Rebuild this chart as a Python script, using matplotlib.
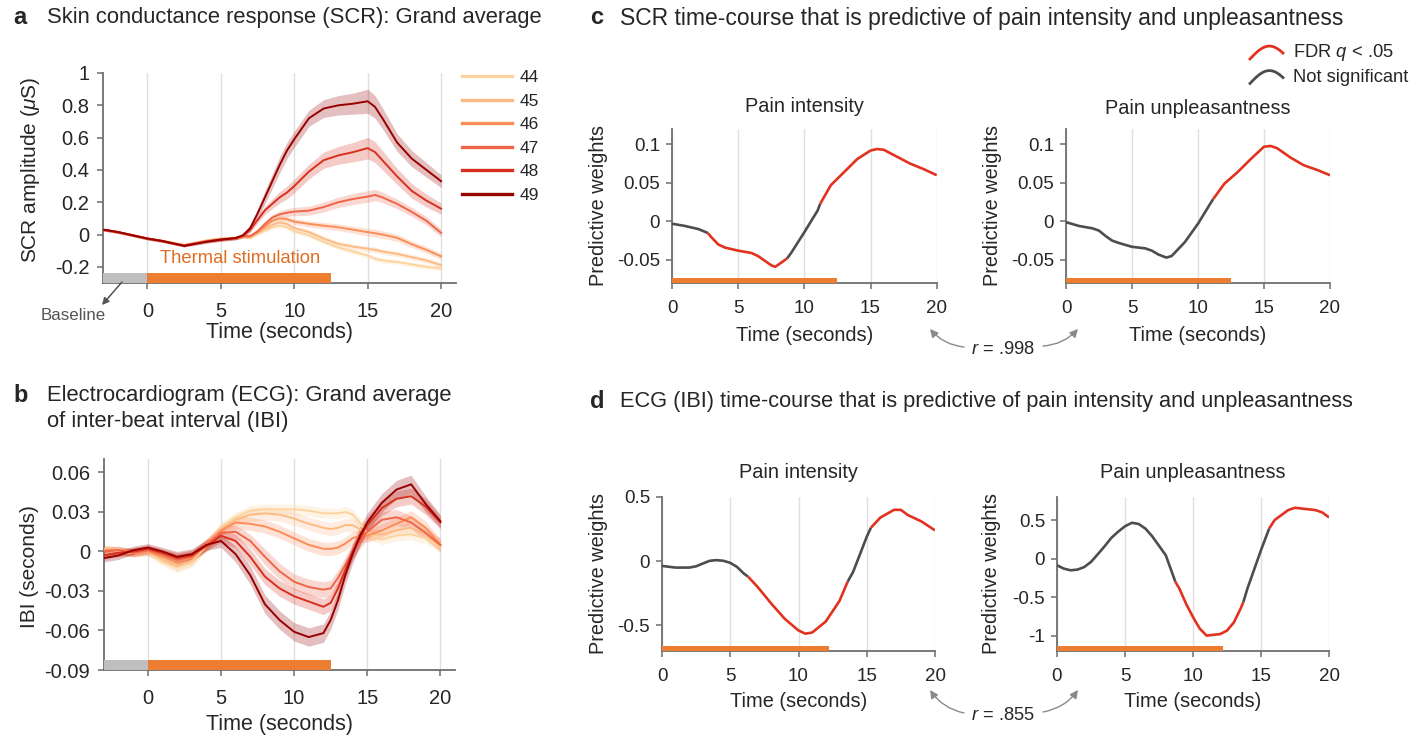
import numpy as np
import matplotlib
matplotlib.use('Agg')
import matplotlib.pyplot as plt
from matplotlib.lines import Line2D
from matplotlib.legend_handler import HandlerBase

plt.rcParams['font.family'] = ['Liberation Sans', 'DejaVu Sans']
plt.rcParams['mathtext.fontset'] = 'custom'
plt.rcParams['mathtext.rm'] = 'Liberation Sans'
plt.rcParams['mathtext.it'] = 'Liberation Sans:italic'
plt.rcParams['axes.unicode_minus'] = False

# ---------------- data ----------------
temps = ['44', '45', '46', '47', '48', '49']
temp_colors = ['#fdd49e', '#fdbb84', '#fc8d59', '#ef6548', '#d7301f', '#990000']

# panel a: SCR grand average (uS)
scr_t = [-3, -2, -1, 0, 1, 2, 2.5, 3, 4, 5, 6, 6.5, 7, 7.5, 8, 8.5, 9, 9.5, 10,
         11, 12, 13, 14, 15, 15.5, 16, 17, 18, 19, 20]
scr_44 = [0.03, 0.015, -0.004, -0.024, -0.038, -0.056, -0.064, -0.055, -0.036, -0.024, -0.02, -0.014,
          -0.018, 0.005, 0.025, 0.045, 0.055, 0.045, 0.02, -0.005, -0.045, -0.08, -0.105, -0.13,
          -0.15, -0.16, -0.17, -0.185, -0.2, -0.21]
scr_45 = [0.03, 0.015, -0.004, -0.024, -0.038, -0.057, -0.065, -0.056, -0.038, -0.026, -0.021, -0.014,
          -0.015, 0.01, 0.035, 0.06, 0.075, 0.065, 0.04, 0.015, -0.025, -0.058, -0.075, -0.088,
          -0.095, -0.105, -0.12, -0.14, -0.16, -0.19]
scr_46 = [0.03, 0.015, -0.005, -0.025, -0.039, -0.058, -0.066, -0.058, -0.04, -0.028, -0.022, -0.013,
          -0.012, 0.015, 0.05, 0.085, 0.1, 0.095, 0.08, 0.066, 0.055, 0.045, 0.03, 0.015,
          0.008, 0.0, -0.02, -0.06, -0.095, -0.135]
scr_47 = [0.03, 0.015, -0.005, -0.025, -0.04, -0.059, -0.067, -0.059, -0.042, -0.03, -0.022, -0.01,
          -0.01, 0.02, 0.065, 0.105, 0.125, 0.135, 0.142, 0.148, 0.17, 0.2, 0.22, 0.235,
          0.245, 0.23, 0.19, 0.14, 0.085, 0.01]
scr_48 = [0.03, 0.015, -0.005, -0.025, -0.04, -0.06, -0.068, -0.06, -0.044, -0.031, -0.022, -0.008,
          0.03, 0.09, 0.15, 0.19, 0.23, 0.26, 0.30, 0.39, 0.46, 0.49, 0.51, 0.535,
          0.51, 0.46, 0.36, 0.27, 0.21, 0.16]
scr_49 = [0.03, 0.015, -0.005, -0.025, -0.04, -0.06, -0.07, -0.062, -0.045, -0.032, -0.022, -0.005,
          0.04, 0.13, 0.23, 0.33, 0.43, 0.52, 0.59, 0.72, 0.78, 0.80, 0.81, 0.825,
          0.79, 0.72, 0.57, 0.47, 0.40, 0.33]
scr_se_44 = [0.008, 0.008, 0.008, 0.008, 0.008, 0.008, 0.008, 0.008, 0.009, 0.01, 0.01, 0.01,
             0.01, 0.01, 0.012, 0.012, 0.012, 0.012, 0.013, 0.013, 0.014, 0.014, 0.015, 0.015,
             0.015, 0.015, 0.015, 0.015, 0.015, 0.015]
scr_se_45 = [0.008, 0.008, 0.008, 0.008, 0.008, 0.008, 0.008, 0.008, 0.009, 0.01, 0.01, 0.01,
             0.01, 0.011, 0.012, 0.013, 0.014, 0.014, 0.015, 0.015, 0.016, 0.016, 0.017, 0.017,
             0.017, 0.017, 0.017, 0.017, 0.016, 0.016]
scr_se_46 = [0.008, 0.008, 0.008, 0.008, 0.008, 0.008, 0.008, 0.008, 0.009, 0.01, 0.01, 0.01,
             0.01, 0.012, 0.014, 0.015, 0.016, 0.017, 0.018, 0.019, 0.02, 0.021, 0.022, 0.024,
             0.024, 0.023, 0.022, 0.021, 0.02, 0.02]
scr_se_47 = [0.008, 0.008, 0.008, 0.008, 0.008, 0.008, 0.008, 0.008, 0.009, 0.01, 0.01, 0.01,
             0.012, 0.015, 0.018, 0.02, 0.022, 0.024, 0.026, 0.028, 0.03, 0.032, 0.034, 0.036,
             0.035, 0.033, 0.03, 0.028, 0.026, 0.025]
scr_se_48 = [0.008, 0.008, 0.008, 0.008, 0.008, 0.008, 0.008, 0.008, 0.009, 0.01, 0.01, 0.012,
             0.015, 0.02, 0.025, 0.03, 0.035, 0.04, 0.042, 0.045, 0.05, 0.055, 0.06, 0.067,
             0.065, 0.06, 0.05, 0.045, 0.04, 0.035]
scr_se_49 = [0.008, 0.008, 0.008, 0.008, 0.008, 0.008, 0.008, 0.008, 0.009, 0.01, 0.01, 0.014,
             0.02, 0.03, 0.04, 0.045, 0.05, 0.05, 0.05, 0.05, 0.055, 0.06, 0.065, 0.075,
             0.07, 0.065, 0.055, 0.05, 0.045, 0.04]
scr_means = [scr_44, scr_45, scr_46, scr_47, scr_48, scr_49]
scr_ses = [scr_se_44, scr_se_45, scr_se_46, scr_se_47, scr_se_48, scr_se_49]

# panel b: IBI grand average (seconds)
ibi_t = [-3, -2, -1, 0, 1, 2, 3, 4, 5, 6, 7, 8, 9, 10, 11, 12, 12.5, 13, 13.5, 14, 14.5,
         15, 16, 17, 18, 19, 20]
ibi_44 = [0.002, 0.0, -0.001, 0.0, -0.008, -0.012, -0.008, 0.004, 0.018, 0.026, 0.031, 0.032,
          0.032, 0.032, 0.031, 0.029, 0.029, 0.029, 0.03, 0.028, 0.022, 0.014, 0.009, 0.012,
          0.013, 0.01, 0.003]
ibi_45 = [0.002, 0.0, -0.001, 0.0, -0.006, -0.011, -0.007, 0.005, 0.017, 0.024, 0.028, 0.029,
          0.028, 0.025, 0.021, 0.018, 0.017, 0.018, 0.02, 0.02, 0.017, 0.013, 0.013, 0.016,
          0.018, 0.013, 0.004]
ibi_46 = [0.001, 0.001, -0.001, 0.0, -0.004, -0.008, -0.005, 0.006, 0.016, 0.022, 0.021, 0.019,
          0.015, 0.01, 0.005, 0.002, 0.002, 0.003, 0.006, 0.01, 0.012, 0.012, 0.016, 0.021,
          0.026, 0.018, 0.005]
ibi_47 = [0.0, 0.001, -0.001, 0.001, -0.002, -0.006, -0.004, 0.005, 0.014, 0.015, 0.008, -0.004,
          -0.015, -0.023, -0.027, -0.029, -0.028, -0.02, -0.01, 0.0, 0.008, 0.015, 0.024, 0.026,
          0.022, 0.014, 0.005]
ibi_48 = [-0.003, -0.001, 0.0, 0.002, -0.001, -0.005, -0.003, 0.004, 0.012, 0.008, -0.004, -0.019,
          -0.028, -0.034, -0.038, -0.042, -0.039, -0.028, -0.014, 0.0, 0.01, 0.02, 0.033, 0.04,
          0.042, 0.034, 0.022]
ibi_49 = [-0.005, -0.003, 0.001, 0.003, 0.0, -0.004, -0.002, 0.005, 0.008, -0.002, -0.018, -0.04,
          -0.052, -0.061, -0.065, -0.062, -0.052, -0.037, -0.018, -0.002, 0.012, 0.022, 0.037, 0.047,
          0.051, 0.036, 0.023]
ibi_se_44 = [0.003, 0.003, 0.003, 0.003, 0.003, 0.004, 0.004, 0.004, 0.004, 0.004, 0.004, 0.004,
             0.004, 0.004, 0.004, 0.004, 0.004, 0.004, 0.004, 0.004, 0.004, 0.004, 0.004, 0.004,
             0.004, 0.004, 0.004]
ibi_se_45 = [0.003, 0.003, 0.003, 0.003, 0.003, 0.004, 0.004, 0.004, 0.004, 0.004, 0.005, 0.005,
             0.005, 0.005, 0.005, 0.005, 0.005, 0.005, 0.005, 0.005, 0.005, 0.005, 0.004, 0.004,
             0.004, 0.004, 0.004]
ibi_se_46 = [0.003, 0.003, 0.003, 0.003, 0.003, 0.004, 0.004, 0.004, 0.004, 0.005, 0.005, 0.005,
             0.005, 0.005, 0.005, 0.005, 0.005, 0.005, 0.005, 0.005, 0.005, 0.005, 0.005, 0.005,
             0.005, 0.005, 0.004]
ibi_se_47 = [0.003, 0.003, 0.003, 0.003, 0.003, 0.004, 0.004, 0.004, 0.005, 0.005, 0.005, 0.006,
             0.006, 0.006, 0.006, 0.006, 0.006, 0.006, 0.006, 0.006, 0.006, 0.006, 0.006, 0.006,
             0.005, 0.005, 0.005]
ibi_se_48 = [0.003, 0.003, 0.003, 0.003, 0.003, 0.004, 0.004, 0.004, 0.005, 0.005, 0.006, 0.006,
             0.006, 0.006, 0.006, 0.006, 0.006, 0.006, 0.006, 0.006, 0.006, 0.006, 0.006, 0.006,
             0.006, 0.006, 0.005]
ibi_se_49 = [0.003, 0.003, 0.003, 0.003, 0.003, 0.004, 0.004, 0.004, 0.005, 0.006, 0.007, 0.007,
             0.007, 0.007, 0.007, 0.007, 0.007, 0.007, 0.007, 0.007, 0.007, 0.007, 0.007, 0.007,
             0.007, 0.006, 0.005]
ibi_means = [ibi_44, ibi_45, ibi_46, ibi_47, ibi_48, ibi_49]
ibi_ses = [ibi_se_44, ibi_se_45, ibi_se_46, ibi_se_47, ibi_se_48, ibi_se_49]

baseline_on, stim_on = -3, 0
stim_off_ab = 12.5
stim_off_c = 12.5
stim_off_d = 12.2

# panel c: SCR predictive weights (1 = FDR q < .05)
scr_int_t = [0, 1, 2, 2.7, 3, 3.5, 4, 5, 6, 6.5, 7, 7.5, 7.8, 8.3, 8.7, 9, 10, 11, 11.2,
             12, 13, 14, 15, 15.5, 16, 17, 18, 19, 20]
scr_int_w = [-0.003, -0.006, -0.010, -0.015, -0.021, -0.030, -0.034, -0.038, -0.041, -0.045,
             -0.051, -0.057, -0.059, -0.053, -0.048, -0.041, -0.014, 0.014, 0.023, 0.047,
             0.064, 0.081, 0.092, 0.094, 0.093, 0.084, 0.075, 0.068, 0.060]
scr_int_sig = [0, 0, 0, 1, 1, 1, 1, 1, 1, 1, 1, 1, 1, 1, 0, 0, 0, 0, 1,
               1, 1, 1, 1, 1, 1, 1, 1, 1, 1]
scr_unp_t = [0, 1, 2, 2.5, 3, 3.5, 4, 5, 6, 6.5, 7, 7.6, 8, 8.5, 9, 10, 11, 11.15,
             12, 13, 14, 15, 15.5, 16, 17, 18, 19, 20]
scr_unp_w = [-0.001, -0.006, -0.009, -0.012, -0.019, -0.025, -0.028, -0.033, -0.035, -0.038,
             -0.043, -0.047, -0.045, -0.036, -0.027, -0.003, 0.025, 0.029, 0.049, 0.064,
             0.081, 0.097, 0.098, 0.095, 0.083, 0.073, 0.067, 0.060]
scr_unp_sig = [0, 0, 0, 0, 0, 0, 0, 0, 0, 0, 0, 0, 0, 0, 0, 0, 0, 1,
               1, 1, 1, 1, 1, 1, 1, 1, 1, 1]

# panel d: ECG (IBI) predictive weights
ibi_int_t = [0, 1, 2, 2.5, 3, 3.5, 4, 4.5, 5, 5.5, 6, 6.3, 7, 8, 9, 10, 10.5, 11, 12, 13,
             13.6, 14, 15, 15.3, 16, 17, 17.5, 18, 19, 20]
ibi_int_w = [-0.037, -0.05, -0.05, -0.04, -0.018, 0.003, 0.008, 0.003, -0.013, -0.045, -0.097,
             -0.12, -0.20, -0.33, -0.45, -0.54, -0.565, -0.556, -0.47, -0.31, -0.16, -0.084,
             0.19, 0.26, 0.34, 0.40, 0.40, 0.36, 0.31, 0.24]
ibi_int_sig = [0, 0, 0, 0, 0, 0, 0, 0, 0, 0, 0, 1, 1, 1, 1, 1, 1, 1, 1, 1,
               0, 0, 0, 1, 1, 1, 1, 1, 1, 1]
ibi_unp_t = [0, 0.5, 1, 1.5, 2, 2.5, 3, 3.5, 4, 4.5, 5, 5.5, 6, 6.5, 7, 8, 8.7, 9, 9.5, 10,
             10.5, 11, 11.5, 12, 12.5, 13, 13.5, 13.7, 14, 15, 15.6, 16, 17, 17.5, 18, 19,
             19.5, 20]
ibi_unp_w = [-0.087, -0.13, -0.152, -0.143, -0.11, -0.043, 0.057, 0.16, 0.27, 0.35, 0.42, 0.465,
             0.45, 0.39, 0.29, 0.043, -0.30, -0.39, -0.59, -0.76, -0.91, -1.0, -0.99, -0.98,
             -0.935, -0.83, -0.65, -0.565, -0.39, 0.11, 0.39, 0.50, 0.63, 0.66, 0.65, 0.63,
             0.60, 0.535]
ibi_unp_sig = [0, 0, 0, 0, 0, 0, 0, 0, 0, 0, 0, 0, 0, 0, 0, 0, 1, 1, 1, 1,
               1, 1, 1, 1, 1, 1, 1, 0, 0, 0, 1, 1, 1, 1, 1, 1, 1, 1]

r_scr = '.998'
r_ibi = '.855'

# ---------------- style ----------------
W, H = 1412, 738
RED = '#e2321f'
DGRAY = '#4d4d4d'
ORANGE = '#ed7d31'
BASEGRAY = '#bfbfbf'
SPINE = '#6e6e6e'
TXT = '#262626'

fig = plt.figure(figsize=(W / 100, H / 100), dpi=100)


def add_ax(l, r, t, b):
    return fig.add_axes([l / W, 1 - b / H, (r - l) / W, (b - t) / H])


def ftext(x, y, s, **kw):
    kw.setdefault('color', TXT)
    kw.setdefault('va', 'center')
    fig.text(x / W, 1 - y / H, s, **kw)


def fpos(x, y):
    return (x / W, 1 - y / H)


def style(ax, tsize, xpad, ypad):
    for s in ['top', 'right']:
        ax.spines[s].set_visible(False)
    for s in ['left', 'bottom']:
        ax.spines[s].set_color(SPINE)
        ax.spines[s].set_linewidth(1.3)
    ax.tick_params(direction='out', length=4, width=1.1, color=SPINE,
                   labelcolor=TXT, labelsize=tsize)
    ax.tick_params(axis='x', pad=xpad)
    ax.tick_params(axis='y', pad=ypad)
    ax.grid(axis='x', color='#e0e0e0', lw=1.0)
    ax.set_axisbelow(True)
    ax.yaxis.set_major_formatter(plt.FuncFormatter(lambda v, p: '{:g}'.format(round(v, 4))))


def set_labels(ax, xl, yl, xoff, yoff, size_x, size_y, ycen=0.5):
    ax.set_xlabel(xl, fontsize=size_x, color=TXT)
    ax.set_ylabel(yl, fontsize=size_y, color=TXT)
    ax.xaxis.label.set_va('center')
    ax.yaxis.label.set_va('center')
    ax.xaxis.set_label_coords(0.5, xoff)
    ax.yaxis.set_label_coords(yoff, ycen)


def sig_line(ax, t, w, sig):
    t = np.asarray(t)
    w = np.asarray(w)
    start = 0
    for i in range(1, len(t)):
        if sig[i] != sig[start] or i == len(t) - 1:
            ax.plot(t[start:i + 1], w[start:i + 1], color=RED if sig[start] else DGRAY,
                    lw=1.9, solid_capstyle='butt', zorder=4)
            start = i


class HumpHandler(HandlerBase):
    def create_artists(self, legend, orig_handle, xdescent, ydescent, width, height, fontsize, trans):
        u = np.linspace(0, 1, 40)
        x = -xdescent + u * width
        y = -ydescent + height * (-0.15 + 1.0 * np.sin(0.85 * np.pi * u))
        ln = Line2D(x, y, color=orig_handle.get_color(), lw=2.0, transform=trans)
        return [ln]


# ---------------- panel a ----------------
axa = add_ax(103.4, 455.8, 73, 283)
style(axa, 14.5, 10, 6)
for m, se, c in zip(scr_means, scr_ses, temp_colors):
    m = np.asarray(m)
    se = np.asarray(se)
    axa.fill_between(scr_t, m - se, m + se, color=c, alpha=0.25, lw=0, zorder=2)
for m, c, lab in zip(scr_means, temp_colors, temps):
    axa.plot(scr_t, m, color=c, lw=1.4, zorder=3, label=lab)
axa.set_xlim(-3, 21)
axa.set_ylim(-0.3, 1)
axa.set_xticks([0, 5, 10, 15, 20])
axa.set_yticks([-0.2, 0, 0.2, 0.4, 0.6, 0.8, 1])
axa.axvspan(baseline_on, stim_on, ymin=0, ymax=0.048, color=BASEGRAY, lw=0, zorder=3)
axa.axvspan(stim_on, stim_off_ab, ymin=0, ymax=0.048, color=ORANGE, lw=0, zorder=3)
axa.text(6.3, -0.15, 'Thermal stimulation', color='#e06d22', fontsize=13.2, ha='center', va='center')
set_labels(axa, 'Time (seconds)', r'SCR amplitude ($\mu$S)', -0.238, -0.207, 15.5, 15, 0.54)
axa.annotate('', xy=fpos(102, 305), xycoords='figure fraction', xytext=fpos(122, 282),
             textcoords='figure fraction',
             arrowprops=dict(arrowstyle='-|>', color='#555555', lw=1.1, mutation_scale=10,
                             shrinkA=0, shrinkB=0), annotation_clip=False)
ftext(73, 316, 'Baseline', color='#555555', fontsize=12.2, ha='center')
fig.legend(handles=[Line2D([], [], color=c, lw=2.4) for c in temp_colors], labels=temps,
           loc='upper left', bbox_to_anchor=fpos(462, 70), frameon=False, fontsize=12.5,
           handlelength=2.9, handletextpad=0.4, labelspacing=0.48, borderpad=0, borderaxespad=0,
           labelcolor=TXT)

# ---------------- panel b ----------------
axb = add_ax(104, 455, 459.3, 670)
style(axb, 14.5, 10, 6)
for m, se, c in zip(ibi_means, ibi_ses, temp_colors):
    m = np.asarray(m)
    se = np.asarray(se)
    axb.fill_between(ibi_t, m - se, m + se, color=c, alpha=0.25, lw=0, zorder=2)
for m, c in zip(ibi_means, temp_colors):
    axb.plot(ibi_t, m, color=c, lw=1.4, zorder=3)
axb.set_xlim(-3, 21)
axb.set_ylim(-0.09, 0.07)
axb.set_xticks([0, 5, 10, 15, 20])
axb.set_yticks([-0.09, -0.06, -0.03, 0, 0.03, 0.06])
axb.axvspan(baseline_on, stim_on, ymin=0, ymax=0.048, color=BASEGRAY, lw=0, zorder=3)
axb.axvspan(stim_on, stim_off_ab, ymin=0, ymax=0.048, color=ORANGE, lw=0, zorder=3)
set_labels(axb, 'Time (seconds)', 'IBI (seconds)', -0.261, -0.211, 15.5, 15, 0.49)

# ---------------- panels c, d ----------------
def weight_panel(box, t, w, sig, ylim, yticks, stim_off, title, ylab_off, xlab_off, title_off):
    ax = add_ax(*box)
    style(ax, 13.5, 8, 4.5)
    sig_line(ax, t, w, sig)
    ax.set_xlim(0, 20)
    ax.set_ylim(*ylim)
    ax.set_xticks([0, 5, 10, 15, 20])
    ax.set_yticks(yticks)
    ax.axvspan(stim_on, stim_off, ymin=0, ymax=0.032, color=ORANGE, lw=0, zorder=3)
    set_labels(ax, 'Time (seconds)', 'Predictive weights', xlab_off, ylab_off, 14.4, 14.3)
    ax.text(0.5, 1 + title_off, title, transform=ax.transAxes, ha='center', va='center',
            fontsize=14.3, color=TXT)
    return ax


weight_panel((672, 936.7, 129, 283), scr_int_t, scr_int_w, scr_int_sig, (-0.08, 0.12),
             [-0.05, 0, 0.05, 0.1], stim_off_c, 'Pain intensity', -0.276, -0.338, 0.149)
weight_panel((1066, 1330, 129, 283), scr_unp_t, scr_unp_w, scr_unp_sig, (-0.08, 0.12),
             [-0.05, 0, 0.05, 0.1], stim_off_c, 'Pain unpleasantness', -0.28, -0.338, 0.136)
weight_panel((662, 935, 497, 651), ibi_int_t, ibi_int_w, ibi_int_sig, (-0.7, 0.5),
             [-0.5, 0, 0.5], stim_off_d, 'Pain intensity', -0.231, -0.331, 0.162)
weight_panel((1057, 1329, 497, 651), ibi_unp_t, ibi_unp_w, ibi_unp_sig, (-1.2, 0.8),
             [-1, -0.5, 0, 0.5], stim_off_d, 'Pain unpleasantness', -0.239, -0.331, 0.162)

fig.legend(handles=[Line2D([], [], color=RED), Line2D([], [], color=DGRAY)],
           labels=['FDR $q$ < .05', 'Not significant'], handler_map={Line2D: HumpHandler()},
           loc='upper left', bbox_to_anchor=fpos(1250, 42), frameon=False, fontsize=13.2,
           handlelength=1.8, handletextpad=0.55, labelspacing=0.3, borderpad=0, borderaxespad=0,
           labelcolor=TXT)

# correlation arrows
for ytxt, yhead, rv in [(350, 329, r_scr), (716, 690, r_ibi)]:
    ftext(1003, ytxt, '$r$ = ' + rv, fontsize=13.2, ha='center')
    axa.annotate('', xy=fpos(930, yhead), xycoords='figure fraction', xytext=fpos(964, ytxt - 3),
                 textcoords='figure fraction',
                 arrowprops=dict(arrowstyle='-|>', color='#8a8a8a', lw=1.0, mutation_scale=12,
                                 shrinkA=0, shrinkB=0, connectionstyle='arc3,rad=-0.2'),
                 annotation_clip=False)
    axa.annotate('', xy=fpos(1078, yhead), xycoords='figure fraction', xytext=fpos(1043, ytxt - 4),
                 textcoords='figure fraction',
                 arrowprops=dict(arrowstyle='-|>', color='#8a8a8a', lw=1.0, mutation_scale=12,
                                 shrinkA=0, shrinkB=0, connectionstyle='arc3,rad=0.2'),
                 annotation_clip=False)

# section titles
ftext(13, 18, 'a', fontsize=17, weight='bold')
ftext(47, 18, 'Skin conductance response (SCR): Grand average', fontsize=15.8)
ftext(13, 396, 'b', fontsize=17, weight='bold')
ftext(47, 396, 'Electrocardiogram (ECG): Grand average', fontsize=15.8)
ftext(47, 421, 'of inter-beat interval (IBI)', fontsize=15.8)
ftext(590, 18, 'c', fontsize=17, weight='bold')
ftext(620, 18, 'SCR time-course that is predictive of pain intensity and unpleasantness', fontsize=16.5)
ftext(590, 402, 'd', fontsize=17, weight='bold')
ftext(620, 402, 'ECG (IBI) time-course that is predictive of pain intensity and unpleasantness',
      fontsize=15.7)

fig.savefig('out.png', dpi=100)
